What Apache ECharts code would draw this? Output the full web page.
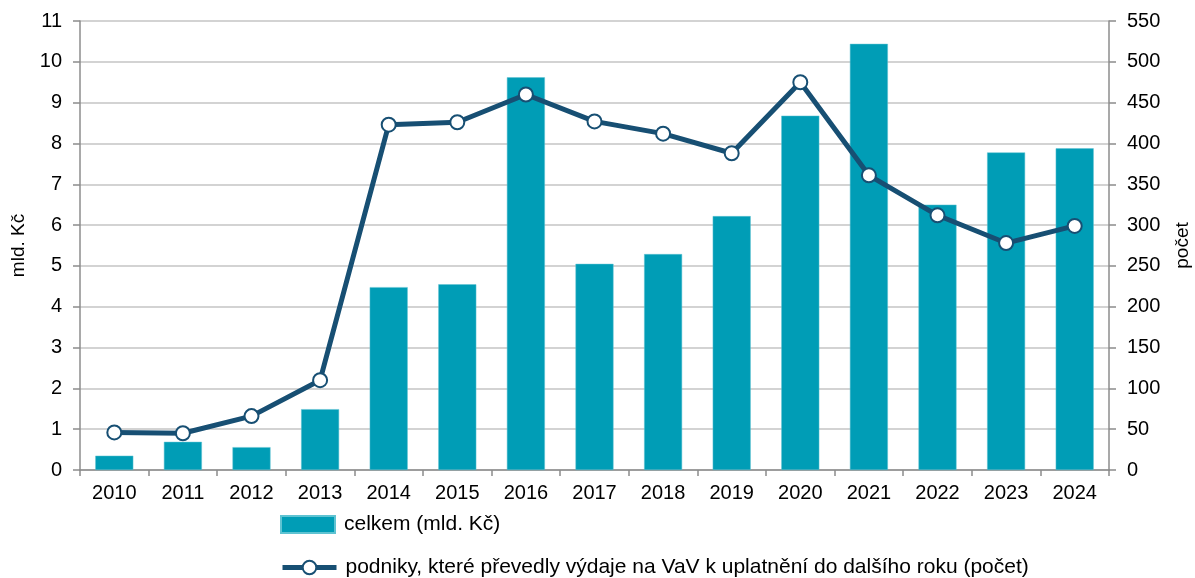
<!DOCTYPE html>
<html>
<head>
<meta charset="utf-8">
<script src="https://cdn.jsdelivr.net/npm/echarts@6/dist/echarts.min.js"></script>
<style>
  html, body { margin: 0; padding: 0; background: #fff; }
  #chart { width: 1195px; height: 578px; }
</style>
</head>
<body>
<div id="chart"></div>
<script>
// categories + data
var years = ['2010','2011','2012','2013','2014','2015','2016','2017','2018','2019','2020','2021','2022','2023','2024'];
var celkem = [0.35, 0.69, 0.56, 1.49, 4.48, 4.55, 9.62, 5.05, 5.29, 6.22, 8.68, 10.44, 6.50, 7.78, 7.88];
var podniky = [46, 45, 66, 110, 423, 426, 460, 427, 412, 388, 475, 361, 312, 278, 299];
var seriesNames = ['celkem (mld. Kč)', 'podniky, které převedly výdaje na VaV k uplatnění do dalšího roku (počet)'];

var myChart = echarts.init(document.getElementById('chart'));
var font = 'Liberation Sans, Arial, sans-serif';
var axisGray = '#8c8c8c';

function legendAt(top, item) {
    return {
        left: 280,
        top: top,
        padding: 0,
        itemWidth: 54,
        itemHeight: 17,
        textStyle: { fontSize: 21, color: '#000', fontFamily: font, padding: [0, 0, 0, 4] },
        data: [item]
    };
}

var option = {
    textStyle: { fontFamily: font },
    animation: false,
    grid: {
        left: 80,
        right: 86,
        top: 21,
        bottom: 108,
        outerBoundsMode: 'none'
    },
    legend: [
        legendAt(514, { name: seriesNames[0], icon: 'rect' }),
        legendAt(557, { name: seriesNames[1], lineStyle: { width: 5 } })
    ],
    xAxis: {
        type: 'category',
        data: years,
        axisLine: { lineStyle: { color: axisGray, width: 1.5 } },
        axisTick: { show: true, length: 6, lineStyle: { color: axisGray, width: 1.5 } },
        axisLabel: { fontSize: 20, color: '#000', margin: 13 }
    },
    yAxis: [
        {
            type: 'value',
            min: 0,
            max: 11,
            interval: 1,
            name: 'mld. Kč',
            nameLocation: 'middle',
            nameGap: 52,
            nameRotate: 90,
            nameTextStyle: { fontSize: 19, color: '#000' },
            axisLine: { show: true, lineStyle: { color: axisGray, width: 1.5 } },
            axisTick: { show: true, length: 7, lineStyle: { color: axisGray, width: 1.5 } },
            axisLabel: { fontSize: 20, color: '#000', margin: 18 },
            splitLine: { lineStyle: { color: '#c4c4c4', width: 1.5 } }
        },
        {
            type: 'value',
            min: 0,
            max: 550,
            interval: 50,
            name: 'počet',
            nameLocation: 'middle',
            nameGap: 64,
            nameRotate: 90,
            nameTextStyle: { fontSize: 19, color: '#000' },
            position: 'right',
            axisLine: { show: true, lineStyle: { color: axisGray, width: 1.5 } },
            axisTick: { show: true, length: 7, lineStyle: { color: axisGray, width: 1.5 } },
            axisLabel: { fontSize: 20, color: '#000', margin: 18 },
            splitLine: { show: false }
        }
    ],
    series: [
        {
            name: seriesNames[0],
            type: 'bar',
            yAxisIndex: 0,
            barWidth: 38,
            itemStyle: { color: '#009db6', borderColor: '#5fc3d2', borderWidth: 0.5 },
            data: celkem
        },
        {
            name: seriesNames[1],
            type: 'line',
            yAxisIndex: 1,
            symbol: 'circle',
            symbolSize: 14,
            lineStyle: { color: '#174f73', width: 5 },
            itemStyle: { color: '#ffffff', borderColor: '#174f73', borderWidth: 2 },
            data: podniky
        }
    ]
};
myChart.setOption(option);
</script>
</body>
</html>
